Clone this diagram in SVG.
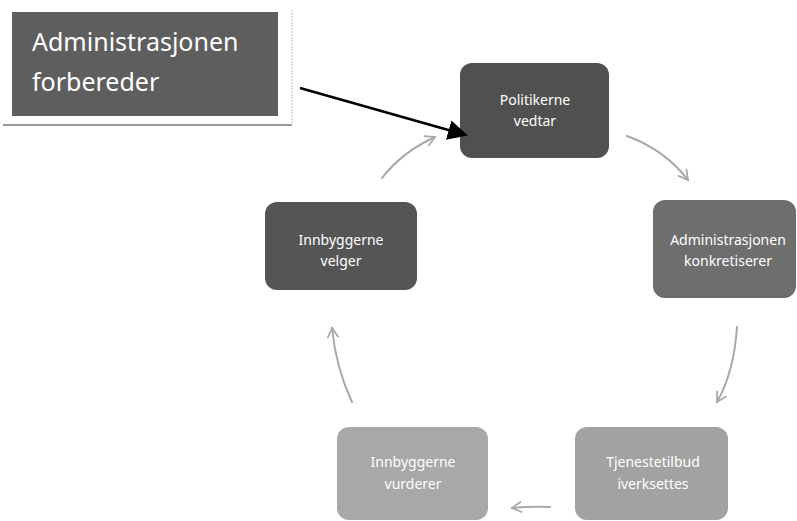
<svg xmlns="http://www.w3.org/2000/svg" width="797" height="521" viewBox="0 0 797 521">
<defs>
<style>
.t{font-family:"Noto Sans","Open Sans",sans-serif;fill:#ffffff;text-anchor:middle;font-size:14px}
.big{font-family:"Noto Sans","Open Sans",sans-serif;fill:#ffffff;font-size:25px}
.ga{fill:none;stroke:#a8a8a8;stroke-width:2;stroke-linecap:round;marker-end:url(#open)}
</style>
<marker id="open" viewBox="0 0 12 12" refX="10" refY="6" markerWidth="13" markerHeight="13" markerUnits="userSpaceOnUse" orient="auto">
<path d="M1,1 L10,6 L1,11" fill="none" stroke="#a8a8a8" stroke-width="1.6"/>
</marker>
<marker id="solid" viewBox="0 0 10 10" refX="9" refY="5" markerWidth="20" markerHeight="20" markerUnits="userSpaceOnUse" orient="auto">
<path d="M0,0 L10,5 L0,10 z" fill="#000"/>
</marker>
</defs>
<rect width="797" height="521" fill="#ffffff"/>
<g id="admin-forbereder">
<line x1="3" y1="125" x2="292" y2="125" stroke="#999" stroke-width="2"/>
<line x1="292" y1="10" x2="292" y2="125" stroke="#bbb" stroke-width="1" stroke-dasharray="2 1"/>
<rect x="12" y="12" width="266" height="104" fill="#5e5e5e"/>
<text class="big" x="32" y="51">Administrasjonen</text>
<text class="big" x="32" y="91">forbereder</text>
</g>
<g id="politikerne">
<rect x="460" y="63" width="149" height="95" rx="12" fill="#505050"/>
<text class="t" x="535" y="105">Politikerne</text>
<text class="t" x="535" y="126">vedtar</text>
</g>
<g id="admin-konkretiserer">
<rect x="653" y="200" width="143" height="98" rx="12" fill="#6e6e6e"/>
<text class="t" x="728" y="245">Administrasjonen</text>
<text class="t" x="728" y="266">konkretiserer</text>
</g>
<g id="tjeneste">
<rect x="575" y="427" width="153" height="93" rx="12" fill="#a2a2a2"/>
<text class="t" x="653" y="467">Tjenestetilbud</text>
<text class="t" x="653" y="489">iverksettes</text>
</g>
<g id="innbyggerne-vurderer">
<rect x="337" y="427" width="151" height="93" rx="12" fill="#a8a8a8"/>
<text class="t" x="413" y="467">Innbyggerne</text>
<text class="t" x="413" y="489">vurderer</text>
</g>
<g id="innbyggerne-velger">
<rect x="265" y="202" width="152" height="88" rx="12" fill="#555555"/>
<text class="t" x="341" y="245">Innbyggerne</text>
<text class="t" x="341" y="266">velger</text>
</g>
<g id="connectors">
<line x1="300" y1="88" x2="466" y2="135" stroke="#000" stroke-width="2.5" marker-end="url(#solid)"/>
<path class="ga" d="M382,178 Q402,152 435,137"/>
<path class="ga" d="M627,136 Q665,150 688,180"/>
<path class="ga" d="M737,327 Q734,372 717,402"/>
<path class="ga" d="M550,507 Q530,506 512,508"/>
<path class="ga" d="M352,402 Q336,368 332,328"/>
</g>
</svg>
